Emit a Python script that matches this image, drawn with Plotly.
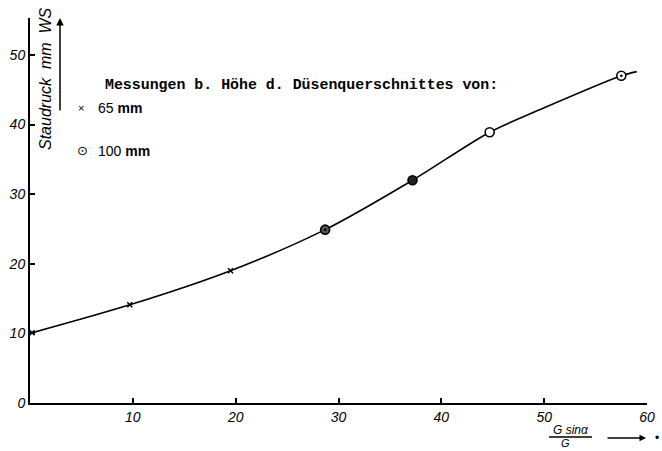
import plotly.graph_objects as go

# Data
x_65 = [0.2, 9.7, 19.5]
y_65 = [10.1, 14.1, 19.0]

x_100 = [28.7, 37.2, 44.7, 57.5]
y_100 = [24.9, 32.0, 38.9, 47.0]
sym_100 = ["circle-dot", "circle", "circle", "circle-dot"]
fill_100 = ["#555", "#222", "white", "white"]

x_curve = [0.0, 9.7, 19.5, 28.7, 37.2, 44.7, 50.0, 57.5, 59.0]
y_curve = [10.0, 14.1, 19.0, 24.9, 32.0, 38.9, 42.4, 47.0, 47.6]

x_ticks = [10, 20, 30, 40, 50, 60]
y_ticks = [0, 10, 20, 30, 40, 50]

L, R, T, B = 30, 15, 18, 48
W, H = 662, 451
pw, ph = W - L - R, H - T - B


def px(x):
    return (x - L) / pw


def py(y):
    return (H - B - y) / ph


fig = go.Figure()
fig.add_trace(go.Scatter(x=x_curve, y=y_curve, mode="lines",
                         line=dict(color="black", width=1.6, shape="spline", smoothing=0.8),
                         showlegend=False, hoverinfo="skip"))
fig.add_trace(go.Scatter(x=x_65, y=y_65, mode="markers",
                         marker=dict(symbol="x-thin", size=5, color="black",
                                     line=dict(color="black", width=1.5)),
                         showlegend=False))
fig.add_trace(go.Scatter(x=x_100, y=y_100, mode="markers",
                         marker=dict(symbol=sym_100, size=9, color=fill_100,
                                     line=dict(color="black", width=1.6)),
                         showlegend=False))

tickfont = dict(family="Liberation Sans", size=14, color="black", style="italic")

fig.update_xaxes(range=[0, 60], tickvals=x_ticks, ticktext=[str(v) for v in x_ticks],
                 showline=True, linecolor="black", linewidth=2, ticks="inside",
                 ticklen=5, tickwidth=1.5, tickcolor="black", showgrid=False,
                 zeroline=False, tickfont=tickfont, automargin=False)
fig.update_yaxes(range=[0, 55.3], tickvals=y_ticks, ticktext=[str(v) for v in y_ticks],
                 showline=True, linecolor="black", linewidth=2, ticks="inside",
                 ticklen=5, tickwidth=1.5, tickcolor="black", showgrid=False,
                 zeroline=False, tickfont=tickfont, automargin=False)


def note(x, y, text, font, xanchor="center", **kw):
    return dict(xref="paper", yref="paper", x=px(x), y=py(y), text=text, showarrow=False,
                xanchor=xanchor, yanchor="middle", font=font, **kw)


sans = lambda s: dict(family="Liberation Sans", size=s, color="black")

ann = []
# y-axis title (inside the plot, rotated) with arrow
ann.append(note(45, 79, "<i>Staudruck  mm  WS</i>", sans(16), textangle=-90))
ann.append(dict(xref="paper", yref="paper", x=px(60), y=py(18), ax=0, ay=94, text="",
                showarrow=True, arrowhead=2, arrowsize=1, arrowwidth=1.5, arrowcolor="black"))
# legend texts
mono = dict(family="Liberation Mono", size=14.9, color="black")
ann.append(note(103, 85, "<b>Messungen b. Höhe d. Düsenquerschnittes von:</b>", mono, xanchor="left"))
ann.append(note(81, 108, "×", sans(11)))
ann.append(note(96, 108, "65 <b>mm</b>", sans(14), xanchor="left"))
ann.append(note(82, 150, "⊙", dict(family="DejaVu Sans", size=13, color="black")))
ann.append(note(96, 151, "100 <b>mm</b>", sans(14), xanchor="left"))
# x-axis title as fraction with arrow
ann.append(note(571, 430, "<i>G sinα</i>", sans(12)))
ann.append(note(565, 443, "<i>G</i>", sans(11)))
ann.append(dict(xref="paper", yref="paper", x=px(646), y=py(438), ax=-40, ay=0, text="",
                showarrow=True, arrowhead=2, arrowsize=1, arrowwidth=1.3, arrowcolor="black"))
ann.append(note(657, 438, "•", sans(12)))

fig.update_layout(
    width=W, height=H,
    margin=dict(l=L, r=R, t=T, b=B),
    paper_bgcolor="white", plot_bgcolor="white",
    annotations=ann,
    shapes=[dict(type="line", xref="paper", yref="paper", x0=px(549), x1=px(592),
                 y0=py(437), y1=py(437), line=dict(color="black", width=1.3))],
)

fig.write_html("out.html", config={"displayModeBar": False},
               post_script="document.body.style.margin='0';document.body.style.overflow='hidden';")
